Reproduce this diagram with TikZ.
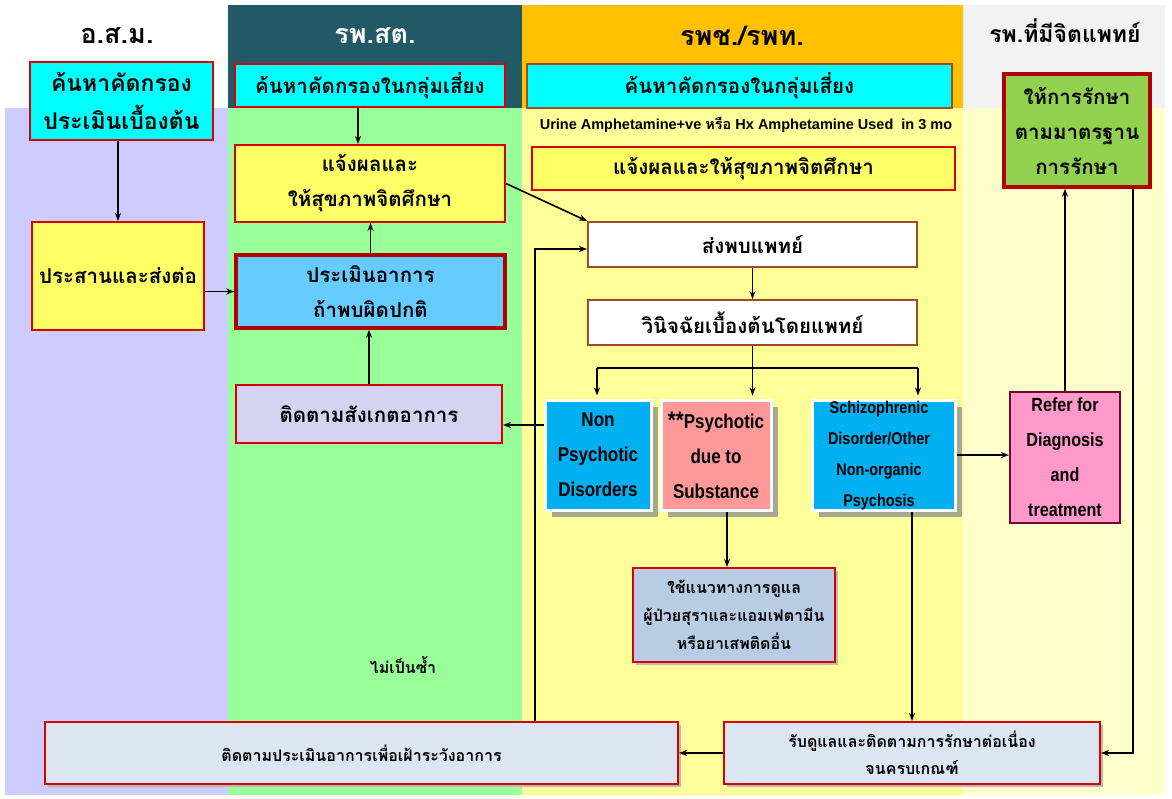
\documentclass[tikz,border=0pt]{standalone}
\usepackage{fontspec}
\setmainfont{Loma}[Script=Thai]
\newfontfamily\engfont{Liberation Sans}[FakeStretch=0.85]
\newfontfamily\notefont{Liberation Sans}
\usetikzlibrary{arrows.meta,shadows}

\definecolor{bandpurple}{HTML}{CCCCFF}
\definecolor{bandgreen}{HTML}{99FF99}
\definecolor{bandyellow}{HTML}{FFFF99}
\definecolor{bandpale}{HTML}{FFFFCC}
\definecolor{hdrteal}{HTML}{215967}
\definecolor{hdrorange}{HTML}{FFC000}
\definecolor{hdrgray}{HTML}{F2F2F2}
\definecolor{boxred}{HTML}{D80000}
\definecolor{boxdarkred}{HTML}{B00000}
\definecolor{boxbrown}{HTML}{A04A2A}
\definecolor{cyanbox}{HTML}{00FFFF}
\definecolor{yellowbox}{HTML}{FFFF66}
\definecolor{skybox}{HTML}{66CCFF}
\definecolor{lavbox}{HTML}{D4D4F2}
\definecolor{bluebox}{HTML}{00B0F0}
\definecolor{salmonbox}{HTML}{FF9999}
\definecolor{pinkbox}{HTML}{FF99CC}
\definecolor{pinkedge}{HTML}{6A0A30}
\definecolor{greenbox}{HTML}{92D050}
\definecolor{steelbox}{HTML}{B8CCE4}
\definecolor{icebox}{HTML}{DCE6F2}
\definecolor{shadowc}{HTML}{A8A890}

\newcommand\tboxfont{\bfseries\fontsize{20.5}{35}\selectfont}
\newcommand\tsmallfont{\bfseries\fontsize{16}{27}\selectfont}
\newcommand\hdrfont{\bfseries\fontsize{27}{30}\selectfont}
\newcommand\enfont{\engfont\bfseries\fontsize{20}{35}\selectfont}

\tikzset{
  box/.style={draw=boxred, line width=2pt, align=center, inner sep=0pt, font=\tboxfont},
  thickbox/.style={box, draw=boxdarkred, line width=3.5pt},
  smallbox/.style={box, font=\tsmallfont},
  dxbox/.style={draw=white, line width=3pt, align=center, inner sep=0pt, font=\enfont,
    drop shadow={shadow xshift=7pt, shadow yshift=-7pt, fill=shadowc, opacity=1}},
  softshadow/.style={drop shadow={shadow xshift=3pt, shadow yshift=-3pt, fill=gray!55, opacity=1}},
  arr/.style={line width=1.6pt, -{Stealth[length=8pt,width=6pt]}},
  ln/.style={line width=1.6pt},
  hdr/.style={font=\hdrfont}
}

\begin{document}
\begin{tikzpicture}[x=1pt,y=-1pt]
\useasboundingbox (0,0) rectangle (1172,798);
\fill[white] (0,0) rectangle (1172,798);

% column bands
\fill[hdrteal] (228,5) rectangle (522,108);
\fill[hdrorange] (522,5) rectangle (963,108);
\fill[hdrgray] (963,5) rectangle (1165,108);
\fill[bandpurple] (5,108) rectangle (228,795);
\fill[bandgreen] (228,108) rectangle (522,795);
\fill[bandyellow] (522,108) rectangle (963,795);
\fill[bandpale] (963,108) rectangle (1165,795);

% column titles
\node[hdr] (h1) at (117,36) {อ.ส.ม.};
\node[hdr, text=white] (h2) at (375,36) {รพ.สต.};
\node[hdr] (h3) at (742,36) {รพช./รพท.};
\node[hdr, font=\bfseries\fontsize{23}{26}\selectfont] (h4) at (1065,31) {รพ.ที่มีจิตแพทย์};

% อ.ส.ม.
\node[box, fill=cyanbox, minimum width=183pt, minimum height=78pt, font=\bfseries\fontsize{23}{38}\selectfont] (A1) at (121.5,101) {ค้นหาคัดกรอง\\ประเมินเบื้องต้น};
\node[box, fill=yellowbox, minimum width=172pt, minimum height=108pt] (A2) at (118,276) {ประสานและส่งต่อ};

% รพ.สต.
\node[box, fill=cyanbox, minimum width=270pt, minimum height=43pt] (B1) at (370,85.5) {ค้นหาคัดกรองในกลุ่มเสี่ยง};
\node[box, fill=yellowbox, minimum width=270pt, minimum height=77pt] (B2) at (370,183.5) {แจ้งผลและ\\ให้สุขภาพจิตศึกษา};
\node[thickbox, fill=skybox, minimum width=269pt, minimum height=73pt] (B3) at (370.5,291.5) {ประเมินอาการ\\ถ้าพบผิดปกติ};
\node[box, fill=lavbox, minimum width=266pt, minimum height=58pt] (B4) at (369,414) {ติดตามสังเกตอาการ};

% รพช./รพท.
\node[box, draw=boxbrown, fill=cyanbox, minimum width=425pt, minimum height=44pt] (C1) at (739.5,86) {ค้นหาคัดกรองในกลุ่มเสี่ยง};
\node[font=\notefont\bfseries\fontsize{14.5}{16}\selectfont] (ur) at (746,125)
  {Urine Amphetamine+ve {\rmfamily หรือ} Hx Amphetamine Used\ \ in 3 mo};
\node[box, fill=yellowbox, minimum width=423pt, minimum height=43pt] (C2) at (743.5,168.5) {แจ้งผลและให้สุขภาพจิตศึกษา};
\node[box, draw=boxbrown, fill=white, minimum width=329pt, minimum height=45pt] (C3) at (752.5,244.5) {ส่งพบแพทย์};
\node[box, draw=boxbrown, fill=white, minimum width=329pt, minimum height=45pt] (C4) at (752.5,322.5) {วินิจฉัยเบื้องต้นโดยแพทย์};

\node[dxbox, fill=bluebox, minimum width=106pt, minimum height=110pt] (D1) at (598,455) {Non\\Psychotic\\Disorders};
\node[dxbox, fill=salmonbox, minimum width=110pt, minimum height=110pt] (D2) at (716,455) {{\fontsize{24}{24}\selectfont**}Psychotic\\due to\\Substance};
\node[dxbox, fill=bluebox, minimum width=143pt, minimum height=110pt] (D3) at (883.5,455) {};
\node[align=center, inner sep=0pt, font=\engfont\bfseries\fontsize{17}{31}\selectfont] (D3t) at (879,456) {Schizophrenic\\Disorder/Other\\Non-organic\\Psychosis};

\node[box, draw=pinkedge, fill=pinkbox, minimum width=110pt, minimum height=131pt, font=\engfont\bfseries\fontsize{19}{35}\selectfont] (E1) at (1065,457.5) {Refer for\\Diagnosis\\and\\treatment};
\node[thickbox, fill=greenbox, minimum width=146pt, minimum height=113pt] (F1) at (1077,130.5) {ให้การรักษา\\ตามมาตรฐาน\\การรักษา};

\node[smallbox, fill=steelbox, softshadow, minimum width=202pt, minimum height=94pt, font=\bfseries\fontsize{16}{28}\selectfont] (G1) at (734,615) {ใช้แนวทางการดูแล\\ผู้ป่วยสุราและแอมเฟตามีน\\หรือยาเสพติดอื่น};
\node[font=\tsmallfont] (nr) at (403,665) {ไม่เป็นซ้ำ};

\node[smallbox, fill=icebox, softshadow, minimum width=633pt, minimum height=62pt] (H1) at (361.5,753) {ติดตามประเมินอาการเพื่อเฝ้าระวังอาการ};
\node[smallbox, fill=icebox, softshadow, minimum width=376pt, minimum height=62pt] (H2) at (912,753) {รับดูแลและติดตามการรักษาต่อเนื่อง\\จนครบเกณฑ์};

% connectors
\draw[arr] (A1.south -| A2.north) -- (A2.north);
\draw[arr] (A2.east |- B3.west) -- (B3.west);
\draw[arr] ([xshift=-12pt]B1.south) -- ([xshift=-12pt]B2.north);
\draw[arr] (B3.north) -- (B3.north |- B2.south);
\draw[arr] (B4.north) -- (B4.north |- B3.south);
\draw[arr] (B2.east) -- (C3.north west);
\draw[arr] (C3.south) -- (C4.north);

\coordinate (jl) at (597,368);
\coordinate (jr) at (918,368);
\draw[ln] (C4.south) -- (C4.south |- jl);
\draw[ln] (jl) -- (jr);
\draw[arr] (jl) -- ([yshift=3pt]jl |- D1.north);
\draw[arr] (C4.south |- jl) -- ([yshift=3pt]C4.south |- D2.north);
\draw[arr] (jr) -- ([yshift=3pt]jr |- D3.north);

\coordinate (vt) at (535,249);
\draw[arr] (H1.north -| vt) -- (vt) -- (vt -| C3.west);
\draw[arr] ([yshift=30pt]D1.west) -- ([yshift=30pt]D1.west -| B4.east);
\draw[arr] (D2.south -| 727,0) -- (G1.north -| 727,0);
\draw[arr] (D3.south -| H2.north) -- (H2.north);
\draw[arr] (D3.east) -- (D3.east -| E1.west);
\draw[arr] (E1.north) -- (E1.north |- F1.south);
\draw[arr] ([xshift=56pt]F1.south) |- (H2.east);
\draw[arr] (H2.west) -- (H1.east);
\end{tikzpicture}
\end{document}
